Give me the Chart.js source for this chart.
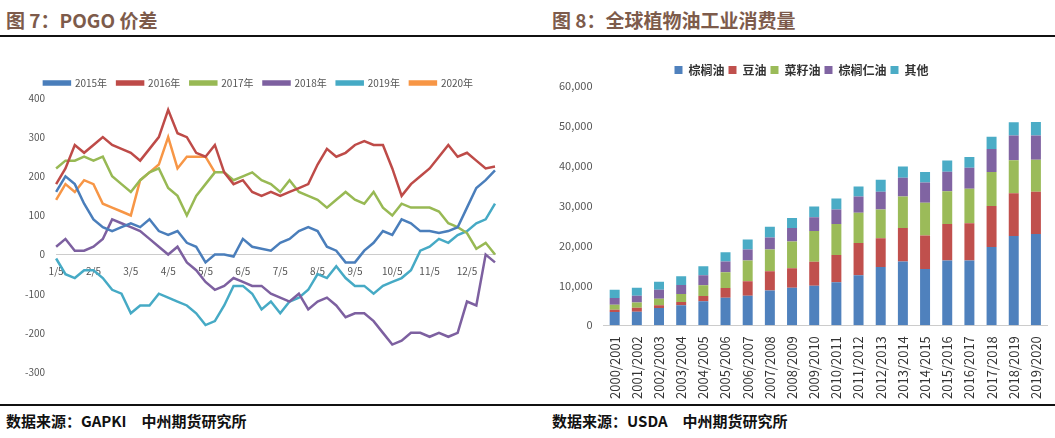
<!DOCTYPE html>
<html><head><meta charset="utf-8">
<script src="https://cdn.jsdelivr.net/npm/chart.js@4"></script>
<style>
body{margin:0;width:1055px;height:438px;background:#fff;position:relative;overflow:hidden;font-family:"Noto Sans CJK SC",sans-serif}
.t{position:absolute;top:6px;font-size:19px;font-weight:bold;color:#7d5b4b}
.f{position:absolute;top:410px;font-size:15px;font-weight:bold;color:#111}
.hl{position:absolute;left:0;width:1055px;height:2px;background:#111}
#c1{position:absolute;left:0;top:38px}
#c2{position:absolute;left:548px;top:38px}
</style></head><body>
<div class="t" style="left:6px">图 7：POGO 价差</div>
<div class="t" style="left:552px">图 8：全球植物油工业消费量</div>
<div class="hl" style="top:35px"></div>
<div class="hl" style="top:404px"></div>
<div class="f" style="left:6px">数据来源：GAPKI　中州期货研究所</div>
<div class="f" style="left:552px">数据来源：USDA　中州期货研究所</div>
<canvas id="c1" width="530" height="364"></canvas>
<canvas id="c2" width="507" height="364"></canvas>
<script>
const months = ["1/5","2/5","3/5","4/5","5/5","6/5","7/5","8/5","9/5","10/5","11/5","12/5"];
const dayLabels = months.flatMap(m => [m, "", "", ""]);
const s2015 = [160,200,180,130, 90,70,60,70, 80,70,90,60, 50,60,30,20, -20,0,0,-5, 40,20,15,10, 30,40,60,70, 60,20,10,-20, -20,10,30,60, 50,90,80,60, 60,55,60,70, 120,170,190,215];
const s2016 = [180,220,280,260, 280,300,280,270, 260,240,270,300, 370,310,300,260, 250,280,210,180, 190,160,150,160, 150,160,170,180, 230,270,250,260, 280,290,280,280, 220,150,180,200, 220,250,280,250, 260,240,220,225];
const s2017 = [220,240,240,250, 240,250,200,180, 160,190,210,220, 170,150,100,150, 180,210,210,190, 200,210,190,180, 160,190,160,150, 140,120,140,160, 140,130,160,120, 100,130,120,120, 120,110,80,70, 55,15,30,0];
const s2018 = [20,40,10,10, 20,40,90,80, 70,60,40,20, 0,20,-20,-40, -70,-90,-80,-60, -70,-80,-80,-100, -110,-120,-100,-140, -120,-110,-130,-160, -150,-150,-170,-200, -230,-220,-200,-200, -210,-200,-210,-200, -120,-130,0,-20];
const s2019 = [-10,-50,-60,-40, -40,-60,-90,-100, -150,-130,-130,-100, -110,-120,-130,-150, -180,-170,-130,-80, -80,-100,-140,-120, -150,-120,-110,-90, -50,-60,-30,-60, -80,-80,-100,-80, -70,-60,-40,10, 20,40,30,50, 60,80,90,130];
const s2020 = [140,180,160,190, 180,130,120,110, 100,190,210,230, 300,220,250,250, 250,210];

const seasons = ["2000/2001","2001/2002","2002/2003","2003/2004","2004/2005","2005/2006","2006/2007","2007/2008","2008/2009","2009/2010","2010/2011","2011/2012","2012/2013","2013/2014","2014/2015","2015/2016","2016/2017","2017/2018","2018/2019","2019/2020"];
const palm = [3300,3400,4300,5000,6000,6900,7400,8700,9400,9900,10800,12500,14600,16000,14100,16200,16200,19600,22400,22900];
const soy = [600,1000,700,800,1300,2400,3600,4800,4900,6000,6800,8100,7200,8400,8400,9200,9400,10300,10700,10600];
const rape = [1200,1300,1600,2000,2700,4000,5200,5500,6700,7700,7800,7600,7200,7900,8200,8200,8600,8500,8300,8000];
const kernel = [1700,1700,2300,2300,2500,2700,2800,3000,3400,3500,3600,4100,4500,4700,5100,4900,5300,5800,6200,6100];
const other = [2100,2000,2000,2200,2300,2300,2500,2700,2500,2700,2800,2500,3000,2800,2600,2800,2700,3100,3300,3400];

Chart.defaults.font.family = "'Noto Sans CJK SC', sans-serif";
Chart.defaults.color = "#555";
Chart.defaults.animation = false;

const line = (label, data, color) => ({label, data, borderColor: color, backgroundColor: color, borderWidth: 2.5, pointRadius: 0, tension: 0});
new Chart(document.getElementById("c1"), {
  type: "line",
  data: {labels: dayLabels, datasets: [
    line("2015年", s2015, "#4a7ebb"),
    line("2016年", s2016, "#be4b48"),
    line("2017年", s2017, "#98b954"),
    line("2018年", s2018, "#7d60a0"),
    line("2019年", s2019, "#46aac5"),
    line("2020年", s2020, "#f79646"),
  ]},
  options: {
    responsive: false,
    layout: {padding: {left: 22, right: 35, top: 30, bottom: 30}},
    plugins: {legend: {labels: {boxWidth: 26, boxHeight: 3, font: {size: 10}, padding: 10}}, tooltip: {enabled: false}},
    scales: {
      x: {position: {y: 0}, offset: false, grid: {display: false}, border: {color: "#ccc"},
          ticks: {autoSkip: false, maxRotation: 0, font: {size: 10}, callback: (v, i) => dayLabels[i]}},
      y: {min: -300, max: 400, grid: {display: false}, border: {display: false},
          ticks: {stepSize: 100, font: {size: 10}}}
    }
  }
});

const bar = (label, data, color) => ({label, data, backgroundColor: color, barPercentage: 0.45, categoryPercentage: 1});
new Chart(document.getElementById("c2"), {
  type: "bar",
  data: {labels: seasons, datasets: [
    bar("棕榈油", palm, "#4f81bd"),
    bar("豆油", soy, "#c0504d"),
    bar("菜籽油", rape, "#9bbb59"),
    bar("棕榈仁油", kernel, "#8064a2"),
    bar("其他", other, "#4bacc6"),
  ]},
  options: {
    responsive: false,
    layout: {padding: {left: 8, right: 8, top: 22, bottom: 0}},
    plugins: {legend: {labels: {boxWidth: 8, boxHeight: 8, font: {size: 12, weight: "bold"}, color: "#333", padding: 4}}, tooltip: {enabled: false}},
    scales: {
      x: {stacked: true, grid: {display: false}, border: {color: "#ccc"},
          ticks: {autoSkip: false, minRotation: 90, maxRotation: 90, font: {size: 13}, color: "#333"}},
      y: {stacked: true, min: 0, max: 60000, grid: {display: false}, border: {display: false},
          ticks: {stepSize: 10000, font: {size: 11}, callback: v => v.toLocaleString("en-US")}}
    }
  }
});
</script>
</body></html>
